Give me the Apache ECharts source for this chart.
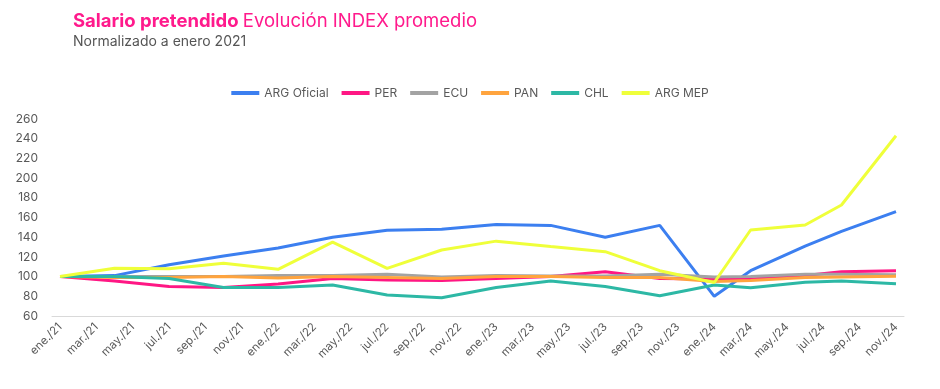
<!DOCTYPE html>
<html>
<head>
<meta charset="utf-8">
<script src="https://cdn.jsdelivr.net/npm/echarts@6/dist/echarts.min.js"></script>
<style>
html,body{margin:0;padding:0;background:#fff;}
#c{width:940px;height:389px;}
</style>
</head>
<body>
<div id="c"></div>
<script>
// Observation dates (year-month)
const dates = ['2021-01','2021-04','2021-07','2021-10','2022-01','2022-04','2022-07','2022-10',
  '2023-01','2023-04','2023-07','2023-10','2024-01','2024-03','2024-06','2024-08','2024-11'];
// Tick labels every two months
const tickLabels = ['ene./21','mar./21','may./21','jul./21','sep./21','nov./21',
  'ene./22','mar./22','may./22','jul./22','sep./22','nov./22',
  'ene./23','mar./23','may./23','jul./23','sep./23','nov./23',
  'ene./24','mar./24','may./24','jul./24','sep./24','nov./24'];

const argOficial = [100,101,112,121,129,140,147,148,153,152,140,152,80,106,131,146,166];
const per        = [100,95.5,90,89,92.5,98,96.5,96,98,100,105,98,97.5,97.5,101,105,106];
const ecu        = [100,100,100,100,101,101,102.3,99.5,101,100.6,100.6,102.3,99.5,100,102.3,102.3,102];
const pan        = [100,99,99,100,98.6,100,99,98,100,100,99,99,95,96,99,99.5,100.3];
const chl        = [100,100,98,89,89,91.5,81.3,78.6,89,95.5,90,80.6,91.5,88.7,94.2,95.5,92.8];
const argMep     = [100,108.4,108,113.5,107.4,135,108.4,127,136,130.5,125.3,106,94,147.3,152.4,172.7,243];

const yTicks = {min:60, max:260, interval:20};

function monthIndex(d){ const [y,m]=d.split('-').map(Number); return (y-2021)*12+(m-1); }
const xs = dates.map(monthIndex);
const pair = arr => arr.map((v,i)=>[xs[i],v]);
const tickValues = tickLabels.map((_,i)=>i*2);

const names  = ['ARG Oficial','PER','ECU','PAN','CHL','ARG MEP'];
const colors = ['#3C7FF0','#FF1784','#A3A3A3','#FFA43E','#2DB8A5','#EFFF3A'];
const values = [argOficial, per, ecu, pan, chl, argMep];
const series = names.map((n,i)=>({
  name:n, type:'line', data:pair(values[i]), showSymbol:false, symbol:'none',
  lineStyle:{width:3, color:colors[i]}, itemStyle:{color:colors[i]},
  z: 2+i, animation:false
}));

const chart = echarts.init(document.getElementById('c'), null, {renderer:'canvas'});
chart.setOption({
  backgroundColor:'#fff',
  animation:false,
  textStyle:{fontFamily:'Inter, sans-serif'},
  title:[{
    left:68, top:7,
    text:'{b|Salario pretendido} {r|Evolución INDEX promedio}',
    textStyle:{rich:{
      b:{fontFamily:'Inter',fontWeight:'bold',fontSize:18.5,color:'#FF1A8C'},
      r:{fontFamily:'Inter',fontWeight:'normal',fontSize:18.5,color:'#FF1A8C'}
    }}
  },{
    left:68, top:30,
    text:'Normalizado a enero 2021',
    textStyle:{fontFamily:'Inter',fontWeight:'normal',fontSize:14,color:'#555555'}
  }],
  legend:{
    top:82, left:'center',
    itemWidth:28, itemHeight:4, itemGap:13,
    icon:'rect',
    textStyle:{fontFamily:'Inter',fontSize:12,color:'#595959'},
    data:names
  },
  grid:{left:52, right:36, top:119, bottom:73, containLabel:false},
  xAxis:{
    type:'value', min:-0.44, max:46.44,
    axisLine:{show:true, lineStyle:{color:'#D9D9D9', width:1}},
    axisTick:{show:false},
    splitLine:{show:false},
    axisLabel:{
      customValues:tickValues,
      rotate:45, margin:9,
      color:'#595959', fontFamily:'Inter', fontSize:11.5,
      formatter:v=>tickLabels[Math.round(v/2)]
    }
  },
  yAxis:{
    type:'value', min:yTicks.min, max:yTicks.max, interval:yTicks.interval,
    axisLine:{show:false}, axisTick:{show:false},
    splitLine:{show:false},
    axisLabel:{color:'#595959', fontFamily:'Inter', fontSize:12, margin:14}
  },
  series:series
});
</script>
</body>
</html>
